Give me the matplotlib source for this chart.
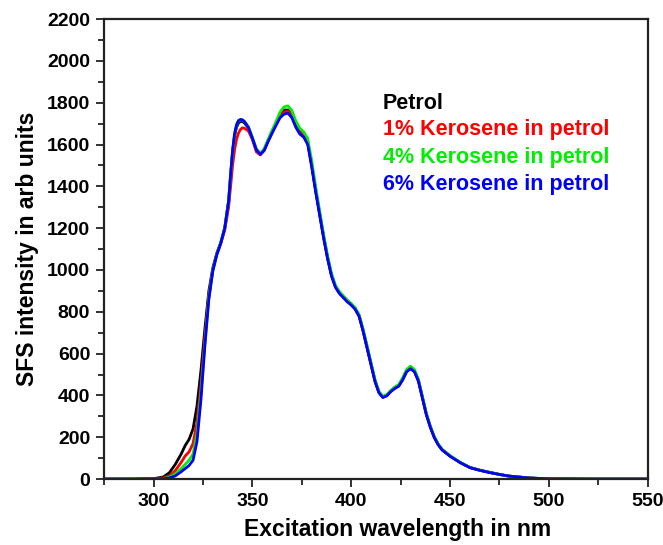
import matplotlib
matplotlib.use("Agg")
import matplotlib.pyplot as plt
from matplotlib.ticker import MultipleLocator

# Excitation wavelength grid (nm)
wavelength = [275, 290, 300, 305, 308, 311, 314, 316, 318, 320, 322, 324, 326, 328,
              330, 332, 334, 336, 338, 339, 340, 341, 342, 343, 344, 345, 346, 348,
              350, 352, 354, 356, 358, 360, 362, 364, 366, 368, 370, 372, 374, 376,
              378, 380, 382, 384, 386, 388, 390, 392, 394, 396, 398, 400, 402, 404,
              406, 408, 410, 412, 414, 416, 418, 420, 422, 424, 426, 428, 430, 432,
              434, 436, 438, 440, 442, 444, 446, 448, 450, 455, 460, 465, 470, 475,
              480, 490, 500, 520, 550]

petrol = [0, 0, 2, 10, 30, 70, 120, 160, 190, 240, 350, 520, 720, 900,
          1010, 1080, 1130, 1200, 1330, 1450, 1565, 1640, 1683, 1703, 1710, 1710, 1703, 1680,
          1630, 1575, 1555, 1575, 1620, 1660, 1700, 1740, 1765, 1765, 1740, 1690, 1660, 1645,
          1610, 1500, 1380, 1270, 1160, 1060, 975, 920, 890, 870, 850, 835, 815, 780,
          710, 630, 550, 470, 415, 392, 400, 420, 435, 445, 475, 515, 530, 515,
          470, 390, 310, 250, 200, 165, 140, 125, 110, 80, 55, 42, 32, 22,
          14, 5, 1, 0, 0]

kero1 = [0, 0, 1, 5, 15, 40, 80, 110, 130, 170, 270, 450, 680, 880,
         1000, 1075, 1125, 1190, 1300, 1400, 1500, 1575, 1625, 1655, 1672, 1680, 1678, 1665,
         1625, 1565, 1550, 1572, 1618, 1658, 1698, 1735, 1755, 1760, 1740, 1695, 1665, 1648,
         1612, 1505, 1385, 1272, 1162, 1062, 978, 922, 892, 872, 852, 837, 817, 782,
         712, 632, 552, 472, 416, 393, 401, 421, 436, 447, 478, 518, 533, 518,
         472, 392, 312, 252, 201, 166, 141, 126, 111, 80, 55, 42, 32, 22,
         14, 5, 1, 0, 0]

kero4 = [0, 0, 1, 3, 8, 25, 50, 70, 90, 120, 220, 410, 650, 870,
         1000, 1075, 1130, 1200, 1330, 1455, 1570, 1648, 1692, 1712, 1718, 1717, 1710, 1685,
         1635, 1580, 1558, 1580, 1625, 1668, 1710, 1755, 1780, 1785, 1762, 1712, 1678, 1660,
         1628, 1525, 1400, 1285, 1172, 1070, 985, 928, 897, 876, 856, 840, 820, 786,
         718, 640, 558, 478, 420, 396, 404, 424, 440, 452, 484, 524, 540, 524,
         478, 396, 315, 254, 203, 168, 142, 127, 112, 81, 56, 43, 32, 22,
         14, 5, 1, 0, 0]

kero6 = [0, 0, 1, 2, 5, 15, 35, 50, 65, 90, 180, 380, 640, 860,
         995, 1072, 1128, 1198, 1330, 1458, 1572, 1652, 1695, 1715, 1720, 1718, 1710, 1682,
         1630, 1575, 1553, 1572, 1615, 1655, 1692, 1728, 1745, 1750, 1728, 1682, 1650, 1635,
         1600, 1495, 1375, 1265, 1155, 1056, 972, 918, 888, 868, 848, 832, 812, 778,
         708, 628, 548, 468, 413, 390, 398, 418, 433, 444, 474, 513, 528, 513,
         468, 388, 308, 248, 199, 164, 139, 124, 109, 79, 55, 42, 31, 22,
         14, 5, 1, 0, 0]

series = [
    ("Petrol", petrol, "#000000"),
    ("1% Kerosene in petrol", kero1, "#ff0000"),
    ("4% Kerosene in petrol", kero4, "#00ee00"),
    ("6% Kerosene in petrol", kero6, "#0000ff"),
]

plt.rcParams["font.family"] = ["Liberation Sans", "DejaVu Sans"]
plt.rcParams["font.weight"] = "bold"

fig = plt.figure(figsize=(6.63, 5.45), dpi=100)
ax = fig.add_axes([0.157, 0.121, 0.820, 0.844])

for name, vals, col in series:
    ax.plot(wavelength, vals, color=col, lw=2.0, solid_joinstyle="round")

ax.set_xlim(275, 550)
ax.set_ylim(0, 2200)
ax.xaxis.set_major_locator(MultipleLocator(50))
ax.xaxis.set_minor_locator(MultipleLocator(25))
ax.yaxis.set_major_locator(MultipleLocator(200))
ax.yaxis.set_minor_locator(MultipleLocator(100))

for sp in ax.spines.values():
    sp.set_linewidth(1.6)
    sp.set_color("#222222")

ax.tick_params(which="both", direction="out", top=False, right=False,
               width=1.3, color="#222222", labelsize=14)
ax.tick_params(which="major", length=6, pad=4)
ax.tick_params(which="minor", length=4)
for lab in ax.get_xticklabels() + ax.get_yticklabels():
    lab.set_fontweight("bold")

ax.set_xlabel("Excitation wavelength in nm", fontsize=16.5, fontweight="bold", labelpad=8)
ax.xaxis.set_label_coords(0.539, -0.085)
ax.set_ylabel("SFS intensity in arb units", fontsize=16.5, fontweight="bold", labelpad=6)

ys = [0.817, 0.759, 0.700, 0.641]
for (name, vals, col), y in zip(series, ys):
    ax.text(0.513, y, name, transform=ax.transAxes, color=col, fontsize=15.5,
            fontweight="bold", va="center", ha="left")

fig.savefig("out.png", dpi=100)
